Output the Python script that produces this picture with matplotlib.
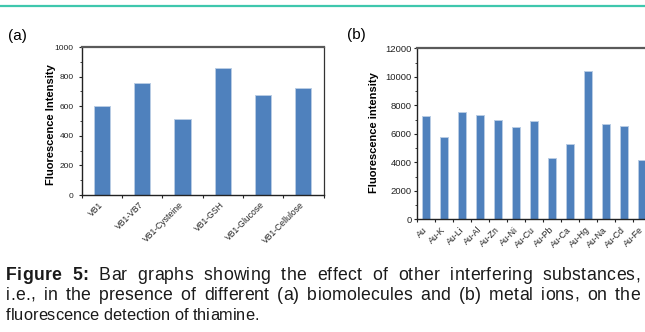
import matplotlib
matplotlib.use("Agg")
import matplotlib.pyplot as plt
from matplotlib.lines import Line2D
from matplotlib.ticker import MultipleLocator
from matplotlib.font_manager import FontProperties, findfont, get_font
import numpy as np

plt.rcParams['font.family'] = ['Liberation Sans', 'DejaVu Sans']

# panel (a): biomolecules
bio_labels = ["VB1", "VB1-VB7", "VB1-Cysteine", "VB1-GSH", "VB1-Glucose", "VB1-Cellulose"]
bio_values = [604, 756, 514, 860, 674, 724]

# panel (b): metal ions
metal_labels = ["Au", "Au-K", "Au-Li", "Au-Al", "Au-Zn", "Au-Ni", "Au-Cu",
                "Au-Pb", "Au-Ca", "Au-Hg", "Au-Na", "Au-Cd", "Au-Fe"]
metal_values = [7250, 5800, 7550, 7300, 7000, 6500, 6900,
                4280, 5290, 10400, 6680, 6570, 4140]

caption_lines = [
    "Figure 5: Bar graphs showing the effect of other interfering substances,",
    "i.e., in the presence of different (a) biomolecules and (b) metal ions, on the",
    "fluorescence detection of thiamine.",
]
caption_bold = "Figure 5:"

W, H = 645, 332
BAR = "#4f81bd"
EDGE = "#b8cce4"

fig = plt.figure(figsize=(W / 100, H / 100), dpi=100)


def px_axes(left, top, right, bottom):
    return fig.add_axes([left / W, 1 - bottom / H, (right - left) / W, (bottom - top) / H])


def style(ax, labels, values, width, ymax, major, minor, tsize, xsize, ypad, xpad):
    n = len(labels)
    x = np.arange(n)
    ax.bar(x, values, width=width, color=BAR, edgecolor=EDGE, linewidth=0.7, zorder=2)
    ax.set_xlim(-0.5, n - 0.5)
    ax.set_ylim(0, ymax)
    ax.yaxis.set_major_locator(MultipleLocator(major))
    ax.yaxis.set_minor_locator(MultipleLocator(minor))
    # tick marks sit on category boundaries, labels at the centers
    ax.set_xticks(np.arange(n + 1) - 0.5)
    ax.set_xticklabels([])
    ax.set_xticks(x, minor=True)
    ax.set_xticklabels(labels, minor=True, rotation=45, ha="right", va="center",
                       rotation_mode="anchor", fontsize=xsize, color="#222222")
    ax.tick_params(axis="x", which="major", direction="out", length=2.5, width=0.8, color="#222222")
    ax.tick_params(axis="x", which="minor", length=0, pad=xpad)
    ax.tick_params(axis="y", which="major", direction="out", length=2.5, width=0.8,
                   labelsize=tsize, pad=ypad, colors="#222222")
    ax.tick_params(axis="y", which="minor", direction="out", length=1.5, width=0.6, color="#222222")
    for s in ("left", "bottom"):
        ax.spines[s].set_color("#222222")
        ax.spines[s].set_linewidth(1.0)
    ax.spines["top"].set_color("#5a5a5a")
    ax.spines["top"].set_linewidth(1.6)
    ax.spines["right"].set_color("#333333")
    ax.spines["right"].set_linewidth(0.9)


ax1 = px_axes(81.7, 47, 323.5, 195)
style(ax1, bio_labels, bio_values, 0.4, 1000, 200, 100, 6, 6.2, 3.4, 6)

ax2 = px_axes(417.3, 48.3, 417.3 + 13 * 18, 219.3)
style(ax2, metal_labels, metal_values, 0.45, 12000, 2000, 1000, 6.8, 6.3, 1.6, 6.5)

fig.text(51 / W, 1 - 125 / H, "Fluorescence Intensity", rotation=90, ha="center", va="center",
         fontsize=8, fontweight="bold")
fig.text(374 / W, 1 - 133 / H, "Fluorescence intensity", rotation=90, ha="center", va="center",
         fontsize=8, fontweight="bold")

fig.text(8 / W, 1 - 29 / H, "(a)", fontsize=11, va="top", ha="left")
fig.text(347 / W, 1 - 28 / H, "(b)", fontsize=11, va="top", ha="left")

# teal rule at the top
fig.add_artist(Line2D([0, 1], [1 - 6 / H, 1 - 6 / H], transform=fig.transFigure,
                      color="#3fc7ad", linewidth=1.6))

# caption: justified lines get a touch of letter spacing plus wider word gaps
fonts = {wt: get_font(findfont(FontProperties(family="Liberation Sans", weight=wt)))
         for wt in ("normal", "bold")}


def advance(ch, wt, size):
    f = fonts[wt]
    f.set_size(size, 100)
    return f.load_char(ord(ch)).linearHoriAdvance / 65536


x0, x1 = 6, 640
baselines = [280.5, 300, 319.5]
sizes = [12.7, 12.7, 11.8]
WORD_RATIO = 16
for li, (line, yb, size) in enumerate(zip(caption_lines, baselines, sizes)):
    wts = ["bold" if (li == 0 and i < len(caption_bold)) else "normal" for i in range(len(line))]
    adv = [advance(c, w, size) for c, w in zip(line, wts)]
    if li < len(caption_lines) - 1:
        n_sp = line.count(" ")
        n_ch = len(line) - 1 - n_sp
        e = ((x1 - x0) - sum(adv)) / (n_ch + WORD_RATIO * n_sp)
    else:
        e = 0.0
    x = x0
    for c, w, a in zip(line, wts, adv):
        if c != " ":
            fig.text(x / W, 1 - yb / H, c, fontsize=size, fontweight=w,
                     va="baseline", ha="left", color="#1a1a1a")
        x += a + (e * WORD_RATIO if c == " " else e)

fig.savefig("out.png", dpi=100)
